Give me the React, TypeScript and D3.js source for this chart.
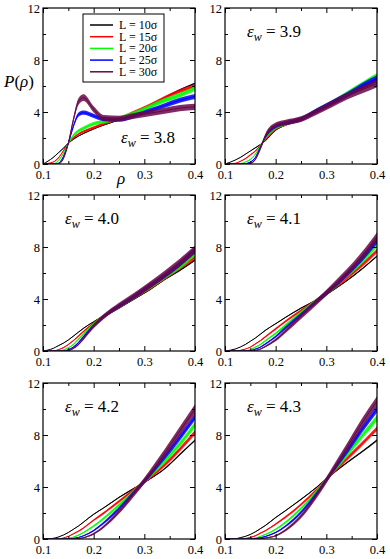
import { useEffect, useRef } from "react";
import * as d3 from "d3";

// density grid shared by every curve
const RHO = [0.1, 0.12, 0.13, 0.14, 0.15, 0.16, 0.17, 0.18, 0.2, 0.22, 0.25, 0.28, 0.31, 0.34, 0.37, 0.4];

const LABELS = ["L = 10σ", "L = 15σ", "L = 20σ", "L = 25σ", "L = 30σ"];
const COLORS = ["#000000", "#ff0000", "#00ff00", "#0000ff", "#670748"];
const NOISE = [0.35, 0.8, 1.0, 1.1, 1.5]; // band half-width factor (noisier for larger L)
const EPS = ["3.8", "3.9", "4.0", "4.1", "4.2", "4.3"];

const X_MAJOR = [0.1, 0.2, 0.3, 0.4];
const X_MINOR = [0.15, 0.25, 0.35];
const Y_MAJOR = [0, 4, 8, 12];
const Y_MINOR = [2, 6, 10];

const EW38 = [
  [0, 0.5, 0.85, 1.2, 1.6, 1.9, 2.15, 2.35, 2.7, 3.0, 3.4, 3.9, 4.5, 5.1, 5.7, 6.2],
  [0, 0.15, 0.45, 1.0, 1.6, 2.0, 2.3, 2.5, 2.8, 3.1, 3.5, 4.0, 4.5, 5.1, 5.6, 6.0],
  [0, 0, 0.25, 0.8, 1.6, 2.2, 2.55, 2.75, 3.1, 3.25, 3.5, 3.9, 4.4, 4.9, 5.3, 5.8],
  [0, 0, 0.05, 0.55, 1.6, 2.9, 3.8, 3.95, 3.7, 3.45, 3.4, 3.7, 4.1, 4.5, 4.9, 5.2],
  [0, 0, 0, 0.4, 1.6, 3.4, 4.8, 5.1, 4.2, 3.55, 3.5, 3.7, 3.9, 4.1, 4.3, 4.4],
];
const EW39 = [
  [0, 0.3, 0.5, 0.75, 1.0, 1.25, 1.5, 1.8, 2.6, 3.0, 3.4, 4.0, 4.6, 5.2, 5.8, 6.4],
  [0, 0.05, 0.2, 0.4, 0.7, 1.0, 1.45, 1.9, 2.7, 3.05, 3.4, 4.0, 4.6, 5.3, 5.9, 6.5],
  [0, 0, 0.02, 0.15, 0.35, 0.75, 1.4, 2.0, 2.8, 3.1, 3.45, 4.1, 4.7, 5.4, 6.1, 6.8],
  [0, 0, 0, 0.03, 0.15, 0.5, 1.3, 2.1, 2.9, 3.15, 3.45, 4.1, 4.7, 5.3, 6.0, 6.6],
  [0, 0, 0, 0, 0.05, 0.35, 1.2, 2.2, 3.0, 3.2, 3.45, 4.0, 4.6, 5.2, 5.7, 6.2],
];
const EW40 = [
  [0, 0.2, 0.4, 0.6, 0.85, 1.15, 1.45, 1.75, 2.25, 2.7, 3.3, 4.0, 4.7, 5.5, 6.2, 7.0],
  [0, 0, 0.1, 0.25, 0.5, 0.8, 1.15, 1.5, 2.15, 2.7, 3.35, 4.1, 4.8, 5.6, 6.4, 7.2],
  [0, 0, 0, 0.08, 0.25, 0.5, 0.9, 1.3, 2.05, 2.7, 3.4, 4.15, 4.9, 5.7, 6.5, 7.5],
  [0, 0, 0, 0, 0.1, 0.3, 0.65, 1.1, 1.95, 2.65, 3.45, 4.2, 5.0, 5.8, 6.7, 7.8],
  [0, 0, 0, 0, 0.03, 0.2, 0.5, 0.95, 1.9, 2.65, 3.5, 4.25, 5.05, 5.9, 6.8, 7.8],
];
const EW41 = [
  [0, 0.15, 0.3, 0.5, 0.75, 1.0, 1.3, 1.6, 2.1, 2.6, 3.3, 3.9, 4.6, 5.4, 6.3, 7.3],
  [0, 0, 0.05, 0.15, 0.3, 0.55, 0.8, 1.1, 1.7, 2.3, 3.1, 3.9, 4.7, 5.6, 6.6, 7.7],
  [0, 0, 0, 0.03, 0.1, 0.3, 0.5, 0.8, 1.35, 2.0, 2.95, 3.85, 4.75, 5.8, 6.9, 8.2],
  [0, 0, 0, 0, 0.03, 0.15, 0.3, 0.55, 1.1, 1.8, 2.8, 3.8, 4.8, 5.9, 7.1, 8.5],
  [0, 0, 0, 0, 0, 0.05, 0.15, 0.35, 0.85, 1.55, 2.65, 3.75, 4.85, 6.0, 7.3, 8.8],
];
const EW42 = [
  [0, 0.05, 0.15, 0.3, 0.5, 0.75, 1.0, 1.3, 1.9, 2.4, 3.2, 3.9, 4.6, 5.4, 6.5, 7.6],
  [0, 0, 0, 0.08, 0.2, 0.4, 0.6, 0.85, 1.45, 2.0, 2.9, 3.8, 4.7, 5.7, 6.9, 8.2],
  [0, 0, 0, 0, 0.05, 0.15, 0.3, 0.5, 1.0, 1.6, 2.6, 3.7, 4.8, 6.0, 7.3, 8.8],
  [0, 0, 0, 0, 0, 0.05, 0.12, 0.25, 0.65, 1.25, 2.35, 3.6, 4.9, 6.3, 7.8, 9.4],
  [0, 0, 0, 0, 0, 0, 0.04, 0.1, 0.4, 0.95, 2.1, 3.5, 5.0, 6.6, 8.3, 10.0],
];
const EW43 = [
  [0, 0.02, 0.1, 0.2, 0.35, 0.55, 0.8, 1.05, 1.65, 2.2, 3.05, 3.95, 4.95, 5.85, 6.7, 7.6],
  [0, 0, 0, 0.05, 0.12, 0.25, 0.45, 0.65, 1.15, 1.7, 2.65, 3.75, 5.0, 6.15, 7.3, 8.5],
  [0, 0, 0, 0, 0.02, 0.08, 0.2, 0.35, 0.75, 1.3, 2.35, 3.6, 5.05, 6.45, 7.9, 9.3],
  [0, 0, 0, 0, 0, 0.03, 0.1, 0.2, 0.5, 1.0, 2.05, 3.45, 5.1, 6.7, 8.4, 10.0],
  [0, 0, 0, 0, 0, 0, 0.03, 0.08, 0.25, 0.7, 1.75, 3.3, 5.15, 7.0, 8.9, 10.6],
];
const PANELS = [EW38, EW39, EW40, EW41, EW42, EW43];

const FONT = "Liberation Serif";

export default function App() {
  const ref = useRef<SVGSVGElement>(null);

  useEffect(() => {
    const svg = d3.select(ref.current);
    svg.selectAll("*").remove();
    const panelW = 152;
    const panelH = 156;
    const cols = [43, 225];
    const rows = [8, 195, 383];

    PANELS.forEach((series, i) => {
      const left = cols[i % 2];
      const top = rows[Math.floor(i / 2)];
      const x = d3.scaleLinear().domain([0.1, 0.4]).range([left, left + panelW]);
      const y = d3.scaleLinear().domain([0, 12]).range([top + panelH, top]);
      const g = svg.append("g");

      const clipId = "clip" + i;
      g.append("clipPath")
        .attr("id", clipId)
        .append("rect")
        .attr("x", left)
        .attr("y", top)
        .attr("width", panelW)
        .attr("height", panelH);
      const plot = g.append("g").attr("clip-path", `url(#${clipId})`);

      series.forEach((vals, j) => {
        const pts = RHO.map((r, k) => ({ r, v: vals[k] }));
        const hw = (v: number) => NOISE[j] * Math.sqrt(v);
        plot
          .append("path")
          .datum(pts)
          .attr("fill", COLORS[j])
          .attr("opacity", 0.85)
          .attr(
            "d",
            d3
              .area<{ r: number; v: number }>()
              .x((d) => x(d.r))
              .y0((d) => y(d.v) + hw(d.v))
              .y1((d) => y(d.v) - hw(d.v))
              .curve(d3.curveMonotoneX)
          );
        plot
          .append("path")
          .datum(pts)
          .attr("fill", "none")
          .attr("stroke", COLORS[j])
          .attr("stroke-width", 1)
          .attr(
            "d",
            d3
              .line<{ r: number; v: number }>()
              .x((d) => x(d.r))
              .y((d) => y(d.v))
              .curve(d3.curveMonotoneX)
          );
      });

      const styleAxis = (a: any) => {
        a.select(".domain").remove();
        a.attr("font-family", null).attr("font-size", null);
        a.selectAll("line").attr("stroke", "#000");
        a.selectAll("text").attr("fill", "#000").style("font-family", FONT).style("font-size", "12.5px");
      };
      g.append("g")
        .attr("transform", `translate(0,${top + panelH})`)
        .call(d3.axisBottom(x).tickValues(X_MAJOR).tickSize(-5).tickPadding(6).tickFormat(d3.format(".1f")))
        .call(styleAxis);
      g.append("g")
        .attr("transform", `translate(0,${top + panelH})`)
        .call(d3.axisBottom(x).tickValues(X_MINOR).tickSize(-3).tickFormat(() => ""))
        .call(styleAxis);
      g.append("g")
        .attr("transform", `translate(0,${top})`)
        .call(d3.axisTop(x).tickValues(X_MAJOR).tickSize(-5).tickFormat(() => ""))
        .call(styleAxis);
      g.append("g")
        .attr("transform", `translate(0,${top})`)
        .call(d3.axisTop(x).tickValues(X_MINOR).tickSize(-3).tickFormat(() => ""))
        .call(styleAxis);
      g.append("g")
        .attr("transform", `translate(${left},0)`)
        .call(d3.axisLeft(y).tickValues(Y_MAJOR).tickSize(-5).tickPadding(3))
        .call(styleAxis);
      g.append("g")
        .attr("transform", `translate(${left},0)`)
        .call(d3.axisLeft(y).tickValues(Y_MINOR).tickSize(-3).tickFormat(() => ""))
        .call(styleAxis);
      g.append("g")
        .attr("transform", `translate(${left + panelW},0)`)
        .call(d3.axisRight(y).tickValues(Y_MAJOR).tickSize(-5).tickFormat(() => ""))
        .call(styleAxis);
      g.append("g")
        .attr("transform", `translate(${left + panelW},0)`)
        .call(d3.axisRight(y).tickValues(Y_MINOR).tickSize(-3).tickFormat(() => ""))
        .call(styleAxis);

      g.append("rect")
        .attr("x", left)
        .attr("y", top)
        .attr("width", panelW)
        .attr("height", panelH)
        .attr("fill", "none")
        .attr("stroke", "#000")
        .attr("stroke-width", 1.2);

      // epsilon_w annotation
      const ax = i === 0 ? left + 78 : left + 22;
      const ay = i === 0 ? top + 135 : top + 29;
      const t = g.append("text").attr("x", ax).attr("y", ay).style("font-family", FONT).style("font-size", "17px");
      t.append("tspan").attr("font-style", "italic").text("ε");
      t.append("tspan").attr("font-style", "italic").style("font-size", "12px").attr("dy", 4).text("w");
      t.append("tspan").attr("dy", -4).text(" = " + EPS[i]);
    });

    // legend in first panel
    const lg = svg.append("g");
    lg.append("rect")
      .attr("x", 83)
      .attr("y", 14)
      .attr("width", 81)
      .attr("height", 68)
      .attr("fill", "#fff")
      .attr("stroke", "#000")
      .attr("stroke-width", 1);
    LABELS.forEach((lab, j) => {
      const yy = 25 + j * 11.7;
      lg.append("line")
        .attr("x1", 90)
        .attr("x2", 113)
        .attr("y1", yy)
        .attr("y2", yy)
        .attr("stroke", COLORS[j])
        .attr("stroke-width", 1.5);
      lg.append("text")
        .attr("x", 119)
        .attr("y", yy + 4)
        .style("font-family", FONT)
        .style("font-size", "12px")
        .text(lab);
    });

    // axis titles
    const py = svg.append("text").attr("x", 4).attr("y", 87).style("font-family", FONT).style("font-size", "17px");
    py.append("tspan").attr("font-style", "italic").text("P");
    py.append("tspan").text("(");
    py.append("tspan").attr("font-style", "italic").text("ρ");
    py.append("tspan").text(")");
    svg
      .append("text")
      .attr("x", 117)
      .attr("y", 184)
      .style("font-family", FONT)
      .style("font-size", "17px")
      .attr("font-style", "italic")
      .text("ρ");
  }, []);

  return (
    <svg
      ref={ref}
      width={390}
      height={559}
      style={{ position: "absolute", left: 0, top: 0, background: "#fff" }}
    />
  );
}
